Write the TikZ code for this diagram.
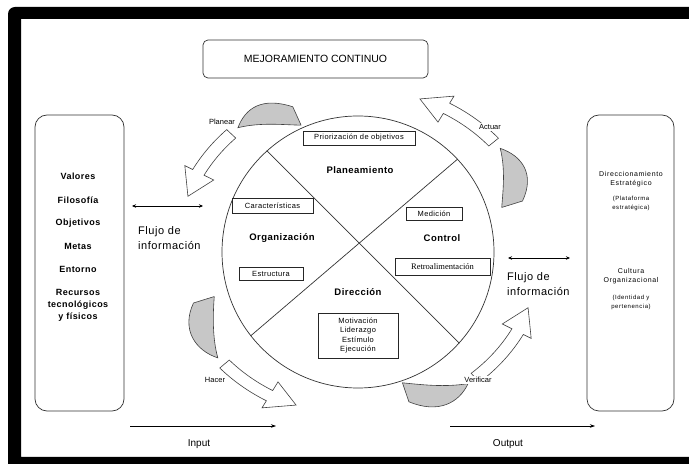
\documentclass[tikz,border=0pt]{standalone}
\usepackage{fontspec}
\setmainfont{Liberation Sans}
\newfontfamily\serifrm{Liberation Serif}
\newfontfamily\spaced[LetterSpace=5]{Liberation Sans}
\newfontfamily\wide[LetterSpace=9]{Liberation Sans}
\usetikzlibrary{arrows.meta}
\newcommand\pdcaarrow[3]{%
\filldraw[grayp] (#1:152) -- (#1:174) .. controls ({#1+7}:197) and ({#2-6}:196) .. (#2:183) .. controls ({#2-7}:174) and ({#1+6}:160) .. cycle;
\filldraw[whitep] ({#2+3}:176) -- ({#2+3}:189) arc[start angle={#2+3}, end angle={#3-9}, radius=189] -- ({#3-9}:198) -- (#3:181) -- ({#3-9}:165) -- ({#3-9}:176) arc[start angle={#3-9}, end angle={#2+3}, radius=176] -- cycle;
}
\tikzset{
 ln/.style={draw=black!80, line width=0.7pt},
 rbox/.style={draw=black!80, line width=0.7pt, rounded corners=12pt, inner sep=0pt},
 tbox/.style={draw=black!85, line width=0.7pt, inner sep=0pt, font=\fontsize{7.5}{8}\selectfont\spaced, align=center},
 blab/.style={font=\bfseries\fontsize{9.5}{10}\selectfont\spaced},
 side/.style={font=\bfseries\fontsize{9}{12}\selectfont\spaced},
 rtext/.style={font=\fontsize{7}{8.5}\selectfont\wide, align=center},
 rsmall/.style={font=\fontsize{6}{9}\selectfont\wide, align=center},
 flow/.style={font=\fontsize{11}{15}\selectfont\spaced, align=left, anchor=west, inner sep=0pt},
 cyclab/.style={font=\fontsize{7.5}{8}\selectfont, fill=white, inner sep=1pt},
 grayp/.style={fill=black!22, draw=black!75, line width=0.6pt},
 whitep/.style={fill=white, draw=black!75, line width=0.6pt},
 dbl/.style={{Stealth[length=4pt,width=3.5pt]}-{Stealth[length=4pt,width=3.5pt]}, line width=0.6pt},
 onearr/.style={-{Stealth[length=5pt,width=3.5pt]}, line width=0.6pt},
 io/.style={font=\fontsize{10}{12}\selectfont},
}
\begin{document}
\begin{tikzpicture}[x=1pt,y=1pt]
\useasboundingbox (0,0) rectangle (689,464);
\fill[white] (0,0) rectangle (689,464);
% frame
\begin{scope}
\clip (0,0) rectangle (689,464);
\fill[black, even odd rule] [rounded corners=7pt] (8,-20) rectangle (720,457) [sharp corners] (21,7) rectangle (710,445);
\end{scope}
% title
\node[draw=black!80, line width=0.7pt, rounded corners=5pt, minimum width=225pt, minimum height=38pt, font=\fontsize{10.5}{11}\selectfont] (mc) at (315.5,405) {MEJORAMIENTO CONTINUO};
% side boxes
\node[rbox, minimum width=89pt, minimum height=296pt] (lbox) at (79.5,201) {};
\node[rbox, minimum width=87pt, minimum height=296pt] (rbox) at (630.5,201) {};
% left texts
\node[side] (t1) at (78,288) {Valores};
\node[side] (t2) at (78,264) {Filosofía};
\node[side] (t3) at (78,241) {Objetivos};
\node[side] (t4) at (78,218) {Metas};
\node[side] (t5) at (78,195) {Entorno};
\node[side, align=center] (t6) at (78,159) {Recursos\\tecnológicos\\y físicos};
% right texts
\node[rtext] (r1) at (631,285) {Direccionamiento\\Estratégico};
\node[rsmall] (r2) at (631,261) {(Plataforma\\estratégica)};
\node[rtext] (r3) at (631,188) {Cultura\\Organizacional};
\node[rsmall] (r4) at (631,162) {(Identidad y\\pertenencia)};
% cycle arrows
\begin{scope}[shift={(358,212)}, yscale=0.9]
\pdcaarrow{19}{39}{70}
\pdcaarrow{112}{131}{160}
\pdcaarrow{199}{220}{250}
\pdcaarrow{287}{307}{340}
\end{scope}
\node[cyclab] (plan) at (222,342) {Planear};
\node[cyclab] (act) at (490,337) {Actuar};
\node[cyclab] (hac) at (215,84) {Hacer};
\node[cyclab] (ver) at (478,84) {Verificar};
% main circle
\node[draw=black!80, line width=0.7pt, circle, minimum size=272pt, inner sep=0pt, fill=white] (circ) at (358,212) {};
\draw[ln] (circ.132) -- (circ.318);
\draw[ln] (circ.43) -- (circ.218);
% circle contents
\node[tbox, minimum width=112pt, minimum height=14pt] (prio) at (359,326) {Priorización de objetivos};
\node[blab] (plane) at (360,294) {Planeamiento};
\node[tbox, minimum width=81pt, minimum height=15pt] (carac) at (272.5,258.5) {Características};
\node[blab] (org) at (282,226) {Organización};
\node[tbox, minimum width=56pt, minimum height=13pt] (med) at (434,250.5) {Medición};
\node[blab] (ctrl) at (442,226) {Control};
\node[tbox, minimum width=95pt, minimum height=17pt, font=\fontsize{8.5}{9}\selectfont\serifrm] (retro) at (442.5,197.5) {Retroalimentación};
\node[tbox, minimum width=64pt, minimum height=13pt] (estr) at (271,190.5) {Estructura};
\node[blab] (dir) at (358,172) {Dirección};
\node[tbox, minimum width=80pt, minimum height=45pt, font=\fontsize{7.5}{9.3}\selectfont\spaced] (mot) at (358,128.5) {Motivación\\Liderazgo\\Estímulo\\Ejecución};
% flows
\coordinate (la) at (132,258);
\coordinate (lb) at (203,258);
\draw[dbl] (la) -- (lb);
\node[flow] (fl1) at (138,226) {Flujo de\\información};
\coordinate (ra) at (508,206);
\coordinate (rb) at (570,206);
\draw[dbl] (ra) -- (rb);
\node[flow] (fl2) at (507,180) {Flujo de\\información};
% input / output
\coordinate (ia) at (130,38);
\coordinate (ib) at (276,38);
\draw[onearr] (ia) -- (ib);
\node[io] (inp) at (199,20) {Input};
\coordinate (oa) at (450,38);
\coordinate (ob) at (595,38);
\draw[onearr] (oa) -- (ob);
\node[io] (outp) at (508,20) {Output};
\end{tikzpicture}
\end{document}
